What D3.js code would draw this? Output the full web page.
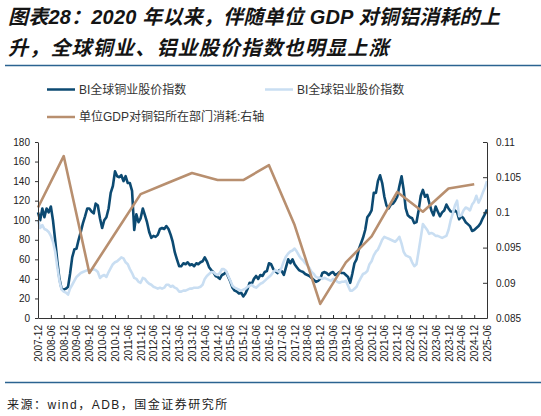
<!DOCTYPE html>
<html>
<head>
<meta charset="utf-8">
<script src="https://cdn.jsdelivr.net/npm/d3@7"></script>
<style>
  html, body { margin: 0; padding: 0; background: #fff; }
  svg { display: block; }
  text { font-family: "Liberation Sans", Arial, "Noto Sans CJK SC", sans-serif; }
</style>
</head>
<body>
<div id="chart"></div>
<script>
/* BI copper / aluminium equity indices vs unit-GDP metal consumption */

// monthly series, first point 2007-12
const startMonth = new Date(2007, 11, 1);

const copperIndex = [
    108, 100, 112, 103, 112, 108, 114, 100, 80, 58, 40, 30,
    29, 30, 32, 45, 62, 70, 71, 80, 88, 97, 104, 112,
    112, 109, 107, 117, 115, 102, 92, 100, 103, 112, 128, 135,
    150, 145, 144, 146, 140, 145, 138, 138, 130, 90, 106, 98,
    102, 112, 105, 98, 88, 82, 84, 83, 85, 91, 92, 91,
    94, 91, 85, 78, 67, 60, 53, 53, 56, 55, 57, 54,
    55, 53, 56, 55, 57, 58, 62, 58, 52, 49, 47, 43,
    42, 40, 44, 45, 47, 42, 37, 31, 28, 27, 25, 26,
    22, 25, 30, 36, 35, 40, 43, 40, 44, 43, 47, 48,
    56, 55, 50, 48, 46, 49, 48, 44, 52, 60, 56, 60,
    55, 52, 49, 48, 47, 45, 44, 43, 41, 39, 37, 38,
    40, 46, 47, 46, 44, 46, 47, 44, 45, 47, 46, 46,
    44, 42, 36, 45, 56, 60, 70, 76, 82, 90, 103, 106,
    110, 128, 128, 140, 146, 138, 124, 115, 112, 116, 117, 120,
    124, 135, 145, 132, 112, 105, 103, 102, 97, 98, 110, 125,
    131, 124, 126, 118, 110, 105, 114, 109, 104, 108, 110, 116,
    112, 109, 108, 110, 108, 101, 104, 102, 98, 96, 94, 89,
    90, 92, 94, 97, 102, 106, 111
];

const aluminiumIndex = [
    100, 92, 95, 91, 90, 88, 84, 78, 68, 52, 38, 29,
    27, 26, 24, 30, 34, 38, 42, 44, 46, 47, 48, 49,
    48, 49, 50, 49, 47, 41, 43, 44, 42, 47, 51, 55,
    57, 58, 60, 62, 61, 57, 55, 50, 46, 41, 40, 37,
    36, 41, 40, 37, 35, 34, 32, 31, 30, 31, 30, 31,
    34, 34, 32, 33, 31, 30, 27, 27, 28, 28, 29, 30,
    30, 31, 31, 31, 32, 34, 40, 43, 45, 47, 47, 45,
    44, 46, 50, 50, 48, 43, 38, 33, 31, 30, 29, 28,
    29, 30, 32, 33, 34, 32, 31, 33, 35, 36, 38, 40,
    42, 44, 47, 49, 48, 47, 52, 58, 63, 66, 68, 69,
    71, 68, 64, 61, 59, 56, 54, 51, 47, 45, 42, 41,
    41, 40, 41, 40, 39, 38, 40, 39, 37, 36, 37, 37,
    38, 33, 28, 28, 30, 32, 37, 41, 45, 46, 48, 55,
    58, 64, 68, 70, 75, 80, 83, 82, 81, 80, 79, 78,
    80, 83, 76, 68, 64, 63, 62, 57, 53, 55, 68, 82,
    96, 93, 90, 86, 87, 86, 84, 84, 83, 82, 83, 84,
    90, 100, 107, 115, 120, 104, 105, 110, 113, 112, 110, 116,
    119, 125, 118, 122, 128, 133, 140
];

// annual (December) points, right axis
const consumptionYears = [2007, 2008, 2009, 2010, 2011, 2012, 2013, 2014, 2015,
    2016, 2017, 2018, 2019, 2020, 2021, 2022, 2023, 2024];
const consumptionValues = [0.1007, 0.1080, 0.0914, 0.0970, 0.1026, 0.1041, 0.1056, 0.1046, 0.1046,
    0.1067, 0.0982, 0.0870, 0.0929, 0.0966, 0.1029, 0.1001, 0.1034, 0.1040];

const leftTicks = [0, 20, 40, 60, 80, 100, 120, 140, 160, 180];
const rightTicks = [0.085, 0.09, 0.095, 0.1, 0.105, 0.11];

const titleLines = [
    "图表28：2020 年以来，伴随单位 GDP 对铜铝消耗的上",
    "升，全球铜业、铝业股价指数也明显上涨"
];
const seriesNames = ["BI全球铜业股价指数", "BI全球铝业股价指数", "单位GDP对铜铝所在部门消耗:右轴"];
const sourceText = "来源：wind，ADB，国金证券研究所";

const colors = { copper: "#0c4a72", aluminium: "#c9def2", consumption: "#b88f6f", rule: "#2b6391" };

function createChart() {
    const W = 541, H = 416;
    const margin = { top: 142, right: 54, bottom: 98, left: 38 };
    const width = W - margin.left - margin.right;
    const height = H - margin.top - margin.bottom;

    const root = d3.select("#chart").append("svg")
        .attr("width", W)
        .attr("height", H)
        .attr("viewBox", `0 0 ${W} ${H}`);

    // TITLE
    root.selectAll(".title")
        .data(titleLines)
        .enter()
        .append("text")
        .attr("class", "title")
        .attr("x", 8)
        .attr("y", (d, i) => 24 + i * 31)
        .attr("font-size", "20px")
        .attr("font-weight", "bold")
        .attr("font-style", "italic")
        .attr("letter-spacing", (d, i) => i === 0 ? "0.2px" : "1.2px")
        .attr("fill", "#141414")
        .text(d => d);

    root.append("line")
        .attr("x1", 5).attr("x2", W)
        .attr("y1", 65.5).attr("y2", 65.5)
        .attr("stroke", colors.rule)
        .attr("stroke-width", 1.5);

    root.append("line")
        .attr("x1", 5).attr("x2", W)
        .attr("y1", 382.5).attr("y2", 382.5)
        .attr("stroke", colors.rule)
        .attr("stroke-width", 1.5);

    root.append("text")
        .attr("x", 7)
        .attr("y", 409)
        .attr("font-size", "12px")
        .attr("letter-spacing", "1.5px")
        .attr("fill", "#222")
        .text(sourceText);

    // LEGEND
    const legendItems = [
        { name: seriesNames[0], color: colors.copper, x: 47, y: 89.5 },
        { name: seriesNames[1], color: colors.aluminium, x: 265, y: 89.5 },
        { name: seriesNames[2], color: colors.consumption, x: 47, y: 117 }
    ];
    const legend = root.selectAll(".legend-item")
        .data(legendItems)
        .enter()
        .append("g")
        .attr("class", "legend-item")
        .attr("transform", d => `translate(${d.x},${d.y})`);
    legend.append("line")
        .attr("x1", 0).attr("x2", 28)
        .attr("stroke", d => d.color)
        .attr("stroke-width", 2.5);
    legend.append("text")
        .attr("x", 32)
        .attr("dy", "0.35em")
        .attr("font-size", "12px")
        .attr("fill", "#333")
        .text(d => d.name);

    const svg = root.append("g")
        .attr("transform", `translate(${margin.left},${margin.top})`);

    const monthDate = i => d3.timeMonth.offset(startMonth, i);
    const copper = copperIndex.map((v, i) => ({ date: monthDate(i), value: v }));
    const aluminium = aluminiumIndex.map((v, i) => ({ date: monthDate(i), value: v }));
    const consumption = consumptionYears.map((yr, i) => ({ date: new Date(yr, 11, 1), value: consumptionValues[i] }));

    const x = d3.scaleTime()
        .domain([startMonth, new Date(2025, 5, 1)])
        .range([0, width]);

    const yLeft = d3.scaleLinear().domain([0, 180]).range([height, 0]);
    const yRight = d3.scaleLinear().domain([0.085, 0.11]).range([height, 0]);

    const lineLeft = d3.line().x(d => x(d.date)).y(d => yLeft(d.value));
    const lineRight = d3.line().x(d => x(d.date)).y(d => yRight(d.value));

    // LINES
    svg.append("path").datum(copper)
        .attr("fill", "none")
        .attr("stroke", colors.copper)
        .attr("stroke-width", 2.6)
        .attr("stroke-linejoin", "round")
        .attr("d", lineLeft);

    svg.append("path").datum(aluminium)
        .attr("fill", "none")
        .attr("stroke", colors.aluminium)
        .attr("stroke-width", 2.6)
        .attr("stroke-linejoin", "round")
        .attr("d", lineLeft);

    svg.append("path").datum(consumption)
        .attr("fill", "none")
        .attr("stroke", colors.consumption)
        .attr("stroke-width", 2.6)
        .attr("stroke-linejoin", "round")
        .attr("d", lineRight);

    // AXES
    const tickDates = d3.timeMonth.range(startMonth, new Date(2025, 6, 1), 6);

    const xAxis = svg.append("g")
        .attr("class", "axis x-axis")
        .attr("transform", `translate(0,${height})`)
        .call(d3.axisBottom(x)
            .tickValues(tickDates)
            .tickFormat(d3.timeFormat("%Y-%m"))
            .tickSizeInner(-3)
            .tickSizeOuter(0));
    xAxis.selectAll("text")
        .attr("transform", "rotate(-90)")
        .attr("text-anchor", "end")
        .attr("x", -7)
        .attr("y", 0)
        .attr("dy", "0.35em")
        .attr("font-size", "10px");

    svg.append("g")
        .attr("class", "axis y-axis")
        .call(d3.axisLeft(yLeft)
            .tickValues(leftTicks)
            .tickSizeInner(3)
            .tickSizeOuter(0)
            .tickPadding(5))
        .selectAll("text")
        .attr("font-size", "10px");

    svg.append("g")
        .attr("class", "axis y-axis-right")
        .attr("transform", `translate(${width},0)`)
        .call(d3.axisRight(yRight)
            .tickValues(rightTicks)
            .tickFormat(d => String(+d.toFixed(3)))
            .tickSizeInner(-4)
            .tickSizeOuter(0)
            .tickPadding(9))
        .selectAll("text")
        .attr("font-size", "10px");

    root.selectAll(".axis path, .axis line").attr("stroke", "#333");
    root.selectAll(".axis text").attr("fill", "#222").attr("font-family", "'Liberation Sans', Arial, sans-serif");
}

createChart();
</script>
</body>
</html>
